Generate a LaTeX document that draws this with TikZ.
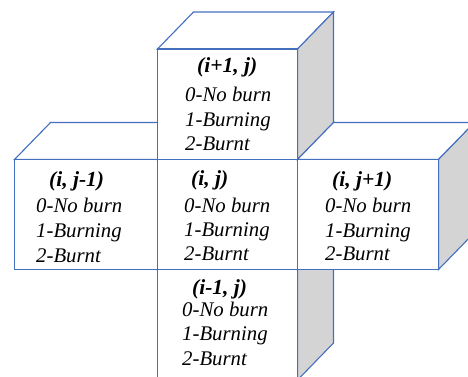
\documentclass[tikz,border=0pt]{standalone}
\usepackage{fontspec}
\setmainfont{Liberation Serif}
\definecolor{edgeblue}{RGB}{68,110,190}
\definecolor{sidegray}{RGB}{212,212,212}
\tikzset{
  cubeline/.style={draw=edgeblue, line width=1.1pt, line join=miter},
  frontface/.style={cubeline, fill=white},
  sideface/.style={cubeline, fill=sidegray},
  txt/.style={anchor=base west, inner sep=0pt, font=\fontsize{20.8}{24}\selectfont\itshape},
  ttl/.style={anchor=base west, inner sep=0pt, font=\fontsize{21.5}{24}\selectfont\bfseries\itshape},
}
\newcommand\drawcube[4]{% x1 x2 Ybottom Ytop
  \draw[frontface] (#1,#4) -- ++(36,37) -- (#2+36,#4+37) -- (#2,#4) -- cycle;
  \draw[sideface] (#2,#4) -- ++(36,37) -- (#2+36,#3+37) -- (#2,#3) -- cycle;
  \draw[frontface] (#1,#3) rectangle (#2,#4);
}
\begin{document}
\begin{tikzpicture}[x=1pt,y=1pt]
\useasboundingbox (0,0) rectangle (468,376);
\clip (0,0) rectangle (468,376);
% left cube
\drawcube{14.5}{157.5}{106.5}{216.5}
% bottom cube
\drawcube{157.5}{297.5}{-4}{106.5}
% middle cube
\drawcube{157.5}{297.5}{106.5}{216.5}
% top cube
\drawcube{157.5}{297.5}{216.5}{327}
% right cube
\drawcube{297.5}{438.5}{106.5}{216.5}

% top cube text
\node[ttl] (top-t) at (197,304) {(i+1, j)};
\node[txt] (top-a) at (185,275) {0-No burn};
\node[txt] (top-b) at (185,250) {1-Burning};
\node[txt] (top-c) at (185,226) {2-Burnt};
% left cube text
\node[ttl] (left-t) at (49,190) {(i, j-1)};
\node[txt] (left-a) at (36,164) {0-No burn};
\node[txt] (left-b) at (36,139) {1-Burning};
\node[txt] (left-c) at (36,114) {2-Burnt};
% middle cube text
\node[ttl] (mid-t) at (191,191) {(i, j)};
\node[txt] (mid-a) at (184,164) {0-No burn};
\node[txt] (mid-b) at (184,140) {1-Burning};
\node[txt] (mid-c) at (184,116) {2-Burnt};
% right cube text
\node[ttl] (right-t) at (332,190) {(i, j+1)};
\node[txt] (right-a) at (325,164) {0-No burn};
\node[txt] (right-b) at (325,139) {1-Burning};
\node[txt] (right-c) at (325,116) {2-Burnt};
% bottom cube text
\node[ttl] (bot-t) at (192,82) {(i-1, j)};
\node[txt] (bot-a) at (182,60) {0-No burn};
\node[txt] (bot-b) at (182,36) {1-Burning};
\node[txt] (bot-c) at (182,11) {2-Burnt};
\end{tikzpicture}
\end{document}
